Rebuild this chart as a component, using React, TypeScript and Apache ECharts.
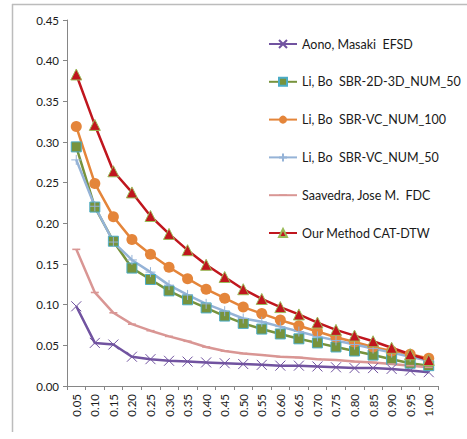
import React, { useEffect, useRef } from "react";
import * as echarts from "echarts";

const categories = ["0.05","0.10","0.15","0.20","0.25","0.30","0.35","0.40","0.45","0.50","0.55","0.60","0.65","0.70","0.75","0.80","0.85","0.90","0.95","1.00"];
const aono = [0.098,0.053,0.051,0.036,0.033,0.031,0.030,0.029,0.028,0.027,0.026,0.025,0.025,0.024,0.023,0.022,0.022,0.021,0.019,0.017];
const li2d3d = [0.294,0.220,0.178,0.145,0.131,0.117,0.106,0.096,0.086,0.077,0.070,0.064,0.058,0.053,0.048,0.043,0.038,0.033,0.028,0.025];
const liVc100 = [0.319,0.249,0.208,0.180,0.162,0.146,0.132,0.119,0.108,0.097,0.089,0.081,0.074,0.067,0.060,0.054,0.048,0.043,0.039,0.034];
const liVc50 = [0.278,0.221,0.177,0.155,0.140,0.124,0.112,0.101,0.092,0.083,0.079,0.073,0.067,0.061,0.056,0.051,0.046,0.041,0.036,0.031];
const saavedra = [0.168,0.115,0.090,0.076,0.068,0.061,0.055,0.048,0.043,0.040,0.038,0.036,0.035,0.033,0.032,0.030,0.029,0.027,0.025,0.023];
const ours = [0.383,0.321,0.264,0.238,0.209,0.187,0.167,0.149,0.134,0.119,0.107,0.097,0.088,0.078,0.069,0.062,0.055,0.047,0.039,0.032];

const FONT = "'Liberation Sans Narrow', Lato, 'Liberation Sans', sans-serif";

export default function App() {
  const ref = useRef<HTMLDivElement>(null);
  useEffect(() => {
    if (!ref.current) return;
    const chart = echarts.init(ref.current, undefined, { renderer: "svg" });
    const mk = (name: string, data: number[], color: string, symbol: string, symbolSize: any, itemStyle: any) => ({
      name,
      type: "line",
      data,
      symbol,
      symbolSize,
      showSymbol: true,
      lineStyle: { color, width: 2.5 },
      itemStyle,
      emphasis: { disabled: true },
    });
    chart.setOption({
      animation: false,
      grid: { left: 67, right: 29, top: 20, bottom: 53, containLabel: false },
      legend: {
        orient: "vertical",
        left: 268,
        top: 37.5,
        padding: 0,
        itemWidth: 28,
        itemHeight: 10,
        itemGap: 24.8,
        textStyle: { fontFamily: FONT, fontSize: 12.5, color: "#1a1a1a" },
      },
      xAxis: {
        type: "category",
        data: categories,
        boundaryGap: true,
        axisLine: { lineStyle: { color: "#868686", width: 1 } },
        axisTick: { show: true, length: 4, lineStyle: { color: "#868686" } },
        axisLabel: { rotate: 90, margin: 8, fontFamily: FONT, fontSize: 11.5, color: "#1a1a1a", interval: 0 },
        splitLine: { show: false },
      },
      yAxis: {
        type: "value",
        min: 0,
        max: 0.45,
        interval: 0.05,
        axisLine: { show: true, lineStyle: { color: "#868686", width: 1 } },
        axisTick: { show: true, length: 4, lineStyle: { color: "#868686" } },
        axisLabel: { formatter: (v: number) => v.toFixed(2), margin: 8, fontFamily: FONT, fontSize: 11.5, color: "#1a1a1a" },
        splitLine: { show: false },
      },
      graphic: [
        { type: "line", shape: { x1: 12, y1: 4.5, x2: 467, y2: 4.5 }, style: { stroke: "#bcbcbc", lineWidth: 1.5 } },
        { type: "line", shape: { x1: 12.5, y1: 4, x2: 12.5, y2: 432 }, style: { stroke: "#bcbcbc", lineWidth: 1.5 } },
      ],
      series: [
        mk("Aono, Masaki  EFSD", aono, "#7153a0", "path://M0,0L10,10M10,0L0,10", 10,
          { color: "rgba(0,0,0,0)", borderColor: "#7153a0", borderWidth: 1 }),
        mk("Li, Bo  SBR-2D-3D_NUM_50", li2d3d, "#77933c", "rect", 10,
          { color: "#77933c", borderColor: "#4bacc6", borderWidth: 1 }),
        mk("Li, Bo  SBR-VC_NUM_100", liVc100, "#e4853a", "circle", 11,
          { color: "#e4853a", borderColor: "#e4853a", borderWidth: 0 }),
        mk("Li, Bo  SBR-VC_NUM_50", liVc50, "#95b3d7", "path://M5,0L5,10M0,5L10,5", 10,
          { color: "rgba(0,0,0,0)", borderColor: "#95b3d7", borderWidth: 1 }),
        mk("Saavedra, Jose M.  FDC", saavedra, "#d99694", "path://M0,0M10,10M0,4L10,4L10,6L0,6Z", 8,
          { color: "#d99694", borderColor: "#d99694", borderWidth: 0 }),
        mk("Our Method CAT-DTW", ours, "#c0161e", "triangle", 11,
          { color: "#c0161e", borderColor: "#9bbb59", borderWidth: 1 }),
      ],
    });
    return () => chart.dispose();
  }, []);
  return <div ref={ref} style={{ width: 467, height: 439, position: "absolute", left: 0, top: 0 }} />;
}
